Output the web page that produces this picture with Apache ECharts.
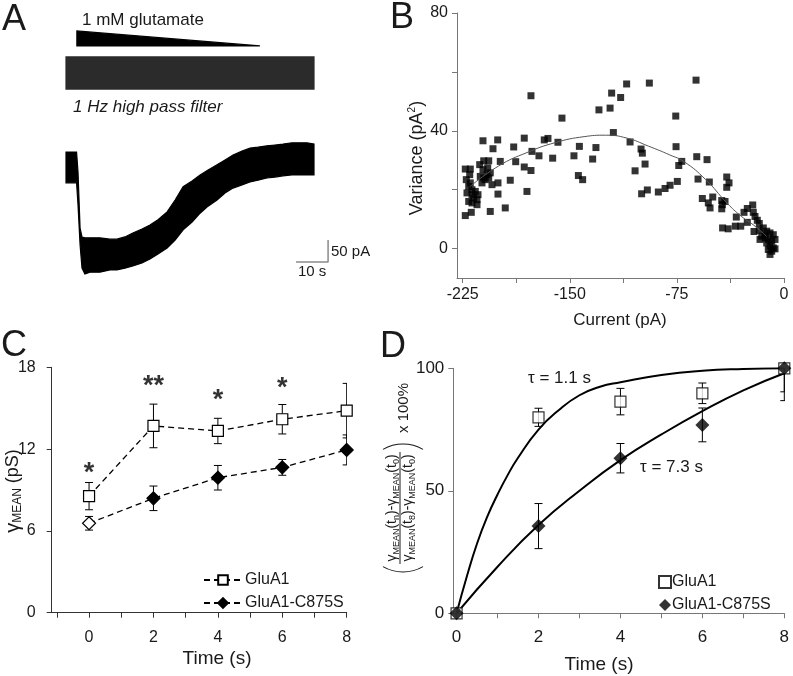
<!DOCTYPE html>
<html>
<head>
<meta charset="utf-8">
<script src="https://cdn.jsdelivr.net/npm/echarts@6/dist/echarts.min.js"></script>
<style>
html, body { margin: 0; padding: 0; background: #fff; }
#chart { width: 793px; height: 676px; }
</style>
</head>
<body>
<div id="chart"></div>
<script>
var font = '"Liberation Sans", Arial, sans-serif';

// A: whole-cell current trace (s, pA), envelope of the noisy band
var traceTime = [0, 3.3, 3.75, 4.4, 5.0, 5.9, 7.5, 10.6, 13.75, 15.9, 18.4, 20.9, 23.75, 26.25, 28.75, 31.6, 34.1, 36.6, 39.4, 41.9, 44.4, 47.2, 49.7, 52.2, 55, 57.5, 60, 62.8, 65.3, 67.8, 70.6, 73.1, 75.3, 77.5];
var traceUpper = [34, 34, -11, -139, -159, -161, -161, -161, -164, -164, -159, -150, -141, -132, -120, -102, -75, -45, -32, -18, -7, 5, 16, 27, 36, 43, 45, 48, 50, 52, 55, 55, 55, 52];
var traceLower = [-36, -36, -86, -177, -230, -243, -239, -239, -234, -234, -230, -225, -218, -209, -198, -184, -166, -143, -125, -105, -89, -75, -59, -48, -41, -34, -30, -25, -23, -20, -18, -18, -18, -18];
// high pass filtered copy, drawn above
var filteredTime = [0, 77.5];
var filteredUpper = [250, 250];
var filteredLower = [177, 177];
// glutamate ramp wedge
var rampTime = [3.4, 3.4, 60.6];
var rampCurrent = [309, 275, 275];
// scale bar: 10 s, 50 pA
var scaleTime = [71.9, 81.9, 81.9];
var scaleCurrent = [-216, -216, -166];

// B: variance vs current
var variancePoints = [
  [-223.2, 27.0], [-219.7, 27.0], [-222.5, 23.4], [-220.1, 25.1], [-220.8, 21.1], [-218.5, 20.0], [-222.0, 18.9], [-218.5, 18.3], [-217.3, 17.2], [-215.0, 16.6],
  [-220.8, 16.0], [-218.5, 15.5], [-215.0, 14.9], [-216.2, 19.4], [-219.7, 22.3], [-214.3, 18.3], [-211.5, 22.3], [-210.3, 24.0], [-208.0, 25.1], [-205.7, 25.7],
  [-206.8, 24.0], [-209.2, 23.4], [-212.7, 24.5], [-213.1, 28.5], [-210.3, 29.8], [-206.8, 29.8], [-210.8, 26.8], [-207.5, 27.4], [-223.2, 11.2], [-219.0, 12.3],
  [-205.7, 12.6], [-195.2, 13.8], [-200.3, 18.5], [-191.7, 23.2], [-180.0, 19.4], [-200.3, 22.3], [-204.5, 21.7], [-198.7, 29.6], [-210.8, 36.6], [-200.5, 36.9],
  [-203.8, 33.9], [-189.3, 34.5], [-181.9, 37.5], [-187.9, 29.5], [-181.9, 27.7], [-176.5, 33.0], [-177.2, 26.5], [-171.6, 31.5], [-167.9, 36.9], [-165.3, 37.4],
  [-162.0, 30.7], [-158.3, 36.1], [-155.5, 44.3], [-177.2, 51.9],
  [-110.2, 55.9], [-94.3, 56.2], [-120.7, 52.8], [-114.4, 51.3], [-129.6, 47.1], [-121.8, 47.7], [-119.5, 39.4], [-143.3, 34.7], [-131.7, 34.3], [-147.1, 31.5],
  [-134.0, 30.4], [-107.8, 36.2], [-100.1, 33.8], [-99.2, 32.4], [-97.3, 28.7], [-104.3, 26.4], [-144.0, 24.8], [-141.0, 23.4], [-99.7, 18.6], [-95.7, 19.9],
  [-88.0, 19.2], [-83.3, 20.4],
  [-61.6, 57.2], [-75.8, 45.0], [-75.6, 34.6], [-71.6, 29.6], [-73.7, 28.2], [-61.1, 31.2], [-53.9, 30.2], [-74.7, 22.8], [-79.8, 21.5], [-60.2, 23.6],
  [-52.3, 22.6], [-40.1, 24.3], [-38.5, 22.3], [-40.1, 20.8], [-57.2, 17.0], [-49.9, 17.5], [-53.0, 15.5], [-51.8, 13.8], [-43.6, 16.3], [-41.3, 16.0],
  [-43.2, 14.9], [-43.6, 13.5], [-33.4, 10.7], [-28.0, 12.3], [-25.7, 13.6], [-21.9, 14.8], [-21.5, 12.3], [-20.3, 10.9], [-18.7, 9.6], [-17.3, 8.5],
  [-43.0, 7.0], [-39.1, 6.7], [-34.1, 7.6], [-30.3, 7.6], [-25.7, 8.9], [-21.0, 5.8], [-17.3, 6.2],
  [-14.5, 7.0], [-12.1, 5.9], [-9.8, 5.3], [-7.5, 4.7], [-15.6, 4.2], [-13.3, 3.6], [-11.0, 3.1], [-8.6, 2.5], [-6.3, 3.1], [-16.8, 3.1],
  [-12.1, 1.9], [-9.8, 0.8], [-7.5, 0.2], [-11.0, -0.3], [-8.6, -0.9], [-6.3, -0.1], [-9.8, -2.0], [-13.3, 4.7]
];
var fitCurrent = [-220, -200, -180, -160, -140, -125, -110, -95, -80, -70, -55, -40, -30, -20, -12];
var fitVariance = [21, 28, 32.6, 36, 38, 38.5, 37.5, 34.8, 31.8, 29.5, 23.5, 15.5, 11, 7.5, 4];

// C: mean conductance (pS)
var timeS = [0, 2, 4, 6, 8];
var gluA1Mean = [8.55, 13.7, 13.33, 14.19, 14.82];
var gluA1Sem = [1.0, 1.6, 0.93, 1.08, 2.0];
var c875sMean = [6.56, 8.39, 9.9, 10.66, 11.94];
var c875sSem = [0.5, 0.9, 0.9, 0.58, 1.1];
var starTime = [0, 2, 4, 6];
var starLevel = [10.7, 17.1, 16.1, 16.95];
var starText = ['*', '**', '*', '*'];

// D: normalised rise (%)
var gluA1Norm = [0, 80, 86.4, 89.8, 100];
var gluA1NormSem = [0, 3.7, 5.4, 4.2, 9.6];
var c875sNorm = [0, 35.6, 63.3, 76.9, 100];
var c875sNormSem = [0, 9.2, 6, 6.9, 13.2];
var fastFitTime = [0, 0.25, 0.5, 0.75, 1, 1.25, 1.5, 2, 2.5, 3, 3.5, 4, 5, 6, 7, 8];
var fastFitValue = [0, 15, 28.5, 39.5, 48.5, 56.5, 63.5, 75, 83, 89, 92.5, 94.3, 97.3, 99, 99.7, 100];
var slowFitTime = [0, 1, 2, 3, 4, 5, 6, 7, 8];
var slowFitValue = [0, 19, 36, 50, 62.5, 73, 82.5, 91, 98];

function pairs(xs, ys) {
  return xs.map(function (x, i) { return [x, ys[i]]; });
}

function axis(grid, min, max, ticks, labels, color, size, margin) {
  return {
    type: 'value', gridIndex: grid, min: min, max: max,
    axisLine: { show: true, onZero: false, lineStyle: { color: color, width: 1 } },
    axisTick: { show: true, length: 5, customValues: ticks, lineStyle: { color: color } },
    axisLabel: { customValues: labels, color: '#1a1a1a', fontSize: size, fontFamily: font, margin: margin },
    splitLine: { show: false }
  };
}

function hiddenAxis(grid, min, max) {
  return { type: 'value', gridIndex: grid, min: min, max: max, show: false };
}

function polygon(xs, ys, fill) {
  return {
    type: 'custom', xAxisIndex: 0, yAxisIndex: 0, silent: true, clip: false,
    data: [[xs[0], ys[0]]],
    renderItem: function (params, api) {
      var pts = xs.map(function (x, i) { return api.coord([x, ys[i]]); });
      return { type: 'polygon', shape: { points: pts }, style: { fill: fill, stroke: fill, lineWidth: 1.2 } };
    }
  };
}

function band(xs, upper, lower, fill) {
  var bx = xs.concat(xs.slice().reverse());
  var by = upper.concat(lower.slice().reverse());
  return polygon(bx, by, fill);
}

function errorBars(xi, means, sems, cap) {
  return {
    type: 'custom', xAxisIndex: xi, yAxisIndex: xi, z: 1, silent: true, clip: true,
    encode: { x: 0, y: [1, 2] },
    data: timeS.map(function (t, i) { return [t, means[i] - sems[i], means[i] + sems[i]]; }),
    renderItem: function (params, api) {
      if (api.value(1) === api.value(2)) return null;
      var lo = api.coord([api.value(0), api.value(1)]);
      var hi = api.coord([api.value(0), api.value(2)]);
      var st = { stroke: '#000', lineWidth: 1 };
      return {
        type: 'group', children: [
          { type: 'line', shape: { x1: lo[0], y1: lo[1], x2: hi[0], y2: hi[1] }, style: st },
          { type: 'line', shape: { x1: lo[0] - cap, y1: lo[1], x2: lo[0] + cap, y2: lo[1] }, style: st },
          { type: 'line', shape: { x1: hi[0] - cap, y1: hi[1], x2: hi[0] + cap, y2: hi[1] }, style: st }
        ]
      };
    }
  };
}

function text(x, y, str, size, extra) {
  return {
    type: 'text', x: x, y: y, silent: true,
    style: Object.assign({ text: str, fontSize: size, fontFamily: font, fill: '#1a1a1a', align: 'center', verticalAlign: 'middle' }, extra || {})
  };
}

function bracket(cx, start, end) {
  return {
    type: 'arc', silent: true,
    shape: { cx: cx, cy: 3, r: 40, startAngle: start, endAngle: end },
    style: { stroke: '#1a1a1a', lineWidth: 1.1, fill: null }
  };
}

var subRich = {
  g: { fontSize: 14, fontFamily: font, fill: '#1a1a1a', lineHeight: 18 },
  s: { fontSize: 9, fontFamily: font, fill: '#1a1a1a', lineHeight: 18, verticalAlign: 'bottom' }
};

var chart = echarts.init(document.getElementById('chart'));

chart.setOption({
  animation: false,
  backgroundColor: '#fff',
  grid: [
    { left: 66, top: 20, width: 262.4, height: 270.2 },
    { left: 457, top: 13, width: 327, height: 265 },
    { left: 51.7, top: 367.3, width: 295, height: 245.4 },
    { left: 453.3, top: 368.3, width: 331, height: 245 }
  ],
  xAxis: [
    hiddenAxis(0, 0, 82),
    axis(1, -229, 0, [-225, -187.5, -150, -112.5, -75, -37.5, 0], [-225, -150, -75, 0], '#777', 16, 9),
    axis(2, -1.16, 8, [-1, 0, 1, 2, 3, 4, 5, 6, 7, 8], [0, 2, 4, 6, 8], '#333', 16, 17),
    axis(3, -0.08, 8, [0, 1, 2, 3, 4, 5, 6, 7, 8], [0, 2, 4, 6, 8], '#777', 17, 16)
  ],
  yAxis: [
    hiddenAxis(0, -280, 334),
    axis(1, -10, 80, [0, 20, 40, 60, 80], [0, 40, 80], '#777', 16, 9),
    axis(2, 0, 18, [0, 6, 12, 18], [0, 6, 12, 18], '#333', 16, 16),
    axis(3, 0, 100, [0, 50, 100], [0, 50, 100], '#777', 17, 9)
  ],
  legend: [
    {
      left: 198, top: 567, orient: 'vertical', itemWidth: 38, itemHeight: 12, itemGap: 7,
      data: ['GluA1', 'GluA1-C875S'],
      textStyle: { color: '#1a1a1a', fontSize: 16, fontFamily: font, padding: [0, 0, 0, -2] }
    },
    {
      left: 653, top: 569, orient: 'vertical', itemWidth: 12, itemHeight: 12, itemGap: 7,
      data: ['D GluA1', 'D GluA1-C875S'],
      formatter: function (name) { return name.replace(/^D /, ''); },
      textStyle: { color: '#1a1a1a', fontSize: 16, fontFamily: font, padding: [0, 0, 0, -4] }
    }
  ],
  series: [
    // A
    band(filteredTime, filteredUpper, filteredLower, '#2b2b2b'),
    band(traceTime, traceUpper, traceLower, '#000'),
    polygon(rampTime, rampCurrent, '#000'),
    {
      type: 'line', xAxisIndex: 0, yAxisIndex: 0, silent: true, symbol: 'none',
      data: pairs(scaleTime, scaleCurrent),
      lineStyle: { color: '#8a8a8a', width: 1.5 }
    },
    // B
    {
      type: 'scatter', xAxisIndex: 1, yAxisIndex: 1, symbol: 'rect', symbolSize: 7,
      data: variancePoints, itemStyle: { color: '#000' }
    },
    {
      type: 'line', xAxisIndex: 1, yAxisIndex: 1, symbol: 'none', smooth: true, z: 3,
      data: pairs(fitCurrent, fitVariance), lineStyle: { color: '#555', width: 1 }
    },
    // C
    errorBars(2, gluA1Mean, gluA1Sem, 4),
    errorBars(2, c875sMean, c875sSem, 4),
    {
      name: 'GluA1', type: 'line', xAxisIndex: 2, yAxisIndex: 2, z: 3,
      symbol: 'rect', symbolSize: 11,
      data: pairs(timeS, gluA1Mean),
      lineStyle: { color: '#000', width: 1.3, type: [6, 4] },
      itemStyle: { color: '#fff', borderColor: '#000', borderWidth: 1.2 }
    },
    {
      name: 'GluA1-C875S', type: 'line', xAxisIndex: 2, yAxisIndex: 2, z: 3,
      symbol: 'diamond', symbolSize: 13,
      data: pairs(timeS, c875sMean).map(function (p, i) {
        return i === 0 ? { value: p, itemStyle: { color: '#fff' } } : p;
      }),
      lineStyle: { color: '#000', width: 1.3, type: [6, 4] },
      itemStyle: { color: '#000', borderColor: '#000', borderWidth: 1.2 }
    },
    {
      type: 'scatter', xAxisIndex: 2, yAxisIndex: 2, silent: true, symbolSize: 1,
      itemStyle: { color: 'rgba(0,0,0,0)' },
      data: starTime.map(function (t, i) { return { value: [t, starLevel[i]], name: starText[i] }; }),
      label: {
        show: true, position: 'inside', formatter: '{b}', fontSize: 27, fontWeight: 'bold',
        fontFamily: font, color: '#000', textBorderWidth: 0, offset: [0, 7]
      }
    },
    // D
    {
      type: 'line', xAxisIndex: 3, yAxisIndex: 3, symbol: 'none', smooth: true, z: 2,
      data: pairs(fastFitTime, fastFitValue), lineStyle: { color: '#000', width: 2 }
    },
    {
      type: 'line', xAxisIndex: 3, yAxisIndex: 3, symbol: 'none', smooth: true, z: 2,
      data: pairs(slowFitTime, slowFitValue), lineStyle: { color: '#000', width: 2 }
    },
    errorBars(3, gluA1Norm, gluA1NormSem, 4),
    errorBars(3, c875sNorm, c875sNormSem, 4),
    {
      name: 'D GluA1', type: 'scatter', xAxisIndex: 3, yAxisIndex: 3, z: 3,
      symbol: 'rect', symbolSize: 11,
      data: pairs(timeS, gluA1Norm),
      itemStyle: { color: '#fff', borderColor: '#000', borderWidth: 1.2 }
    },
    {
      name: 'D GluA1-C875S', type: 'scatter', xAxisIndex: 3, yAxisIndex: 3, z: 4,
      symbol: 'diamond', symbolSize: 14,
      data: pairs(timeS, c875sNorm),
      itemStyle: { color: '#000' }
    }
  ],
  graphic: [
    text(14, 20, 'A', 36),
    text(402, 18, 'B', 36),
    text(14, 346, 'C', 36),
    text(393, 347, 'D', 36),
    text(82, 20, '1 mM glutamate', 17, { align: 'left' }),
    text(73, 107, '1 Hz high pass filter', 17, { align: 'left', fontStyle: 'italic' }),
    text(331, 252, '50 pA', 15, { align: 'left' }),
    text(298, 272, '10 s', 15, { align: 'left' }),
    text(620, 320, 'Current (pA)', 17),
    {
      type: 'text', x: 417, y: 158, rotation: Math.PI / 2, silent: true,
      style: {
        text: '{a|Variance (pA}{b|2}{a|)}', align: 'center', verticalAlign: 'middle',
        rich: {
          a: { fontSize: 18, fontFamily: font, fill: '#1a1a1a', lineHeight: 20 },
          b: { fontSize: 10, fontFamily: font, fill: '#1a1a1a', lineHeight: 20, verticalAlign: 'top' }
        }
      }
    },
    text(217, 659, 'Time (s)', 19),
    {
      type: 'text', x: 13, y: 491, rotation: Math.PI / 2, silent: true,
      style: {
        text: '{g|γ}{s|MEAN}{a| (pS)}', align: 'center', verticalAlign: 'middle',
        rich: {
          g: { fontSize: 20, fontFamily: font, fill: '#1a1a1a', lineHeight: 22 },
          s: { fontSize: 12, fontFamily: font, fill: '#1a1a1a', lineHeight: 22, verticalAlign: 'bottom' },
          a: { fontSize: 18, fontFamily: font, fill: '#1a1a1a', lineHeight: 22 }
        }
      }
    },
    text(599, 665, 'Time (s)', 19),
    text(528, 378, 'τ = 1.1 s', 17, { align: 'left' }),
    text(640, 467, 'τ = 7.3 s', 17, { align: 'left' }),
    {
      type: 'group', x: 400, y: 480, rotation: Math.PI / 2, silent: true,
      children: [
        {
          type: 'text', x: -28, y: -8,
          style: { text: '{g|γ}{s|MEAN}{g|(t}{s|n}{g|)-γ}{s|MEAN}{g|(t}{s|0}{g|)}', align: 'center', verticalAlign: 'middle', rich: subRich }
        },
        { type: 'line', shape: { x1: -84, y1: 0, x2: 28, y2: 0 }, style: { stroke: '#1a1a1a', lineWidth: 1 } },
        {
          type: 'text', x: -28, y: 8,
          style: { text: '{g|γ}{s|MEAN}{g|(t}{s|8}{g|)-γ}{s|MEAN}{g|(t}{s|0}{g|)}', align: 'center', verticalAlign: 'middle', rich: subRich }
        },
        bracket(-92 + 40, Math.PI * 5 / 6, Math.PI * 7 / 6),
        bracket(36 - 40, -Math.PI / 6, Math.PI / 6),
        text(47, 4, 'x 100%', 15, { align: 'left' })
      ]
    }
  ]
});

window.addEventListener('resize', function () {
  chart.resize();
});
</script>
</body>
</html>
